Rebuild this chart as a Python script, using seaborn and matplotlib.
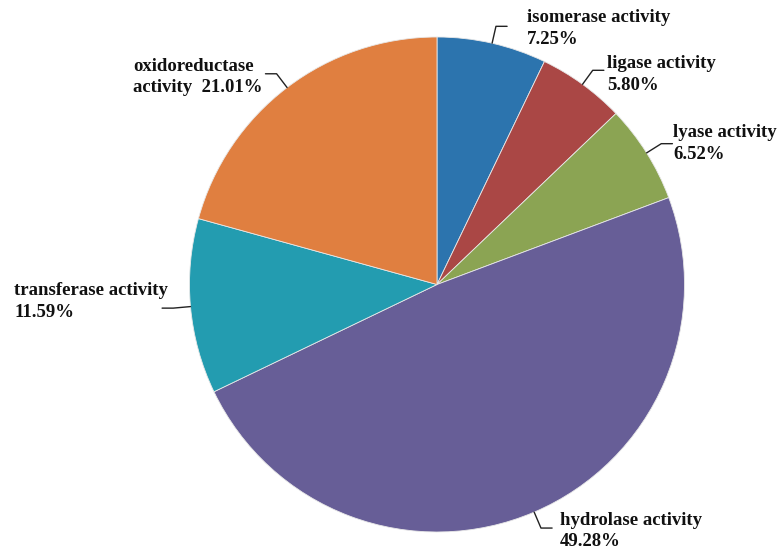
import numpy as np
import matplotlib
matplotlib.use("Agg")
import matplotlib.pyplot as plt
import seaborn as sns

categories = ["isomerase activity", "ligase activity", "lyase activity",
              "hydrolase activity", "transferase activity", "oxidoreductase activity"]
values = [7.25, 5.80, 6.52, 49.28, 11.59, 21.01]
label_texts = ["isomerase activity\n7.25%", "ligase activity\n5.80%", "lyase activity\n6.52%",
               "hydrolase activity\n49.28%", "transferase activity\n11.59%",
               "oxidoreductase\nactivity  21.01%"]
colors = ["#2C74AE", "#AA4745", "#8BA453", "#675E97", "#239CB0", "#E07F40"]

sns.set_theme(style="white")
plt.rcParams['font.family'] = ['Liberation Serif', 'DejaVu Serif']

W, H = 779, 554
fig = plt.figure(figsize=(W / 100, H / 100), dpi=100)
cx, cy, R = 437, 284.5, 247.5
ax = fig.add_axes([(cx - R) / W, (H - cy - R) / H, 2 * R / W, 2 * R / H])
ax.axis("off")

wedges, _ = ax.pie(values, colors=colors, startangle=90, counterclock=False,
                   radius=1.0, wedgeprops=dict(edgecolor="#e8e8e8", linewidth=0.6))
ax.set_xlim(-1, 1)
ax.set_ylim(-1, 1)


def px(x, y):
    return ((x - cx) / R, (cy - y) / R)


# text layout positions (left edge, vertical centre) in pixels
text_pos = [(527, 28.5), (607, 74.5), (673, 143.5), (560, 531), (14, 301.5), (133, 77)]
stub = [1, 1, 1, 1, -1, -1]

for w, lab, tp, sd in zip(wedges, label_texts, text_pos, stub):
    ang = np.deg2rad((w.theta1 + w.theta2) / 2)
    p0 = (np.cos(ang), np.sin(ang))
    r1 = 1.07
    p1 = (r1 * np.cos(ang), r1 * np.sin(ang))
    p2 = (p1[0] + sd * 0.045, p1[1])
    ax.plot([p0[0], p1[0], p2[0]], [p0[1], p1[1], p2[1]], color="#222222",
            lw=1.0, clip_on=False)
    tx, ty = px(*tp)
    ax.text(tx, ty, lab, ha="left", va="center", fontsize=13.5, fontweight="bold",
            color="#111111", linespacing=1.35, clip_on=False)

fig.savefig("out.png", dpi=100, facecolor="white")
